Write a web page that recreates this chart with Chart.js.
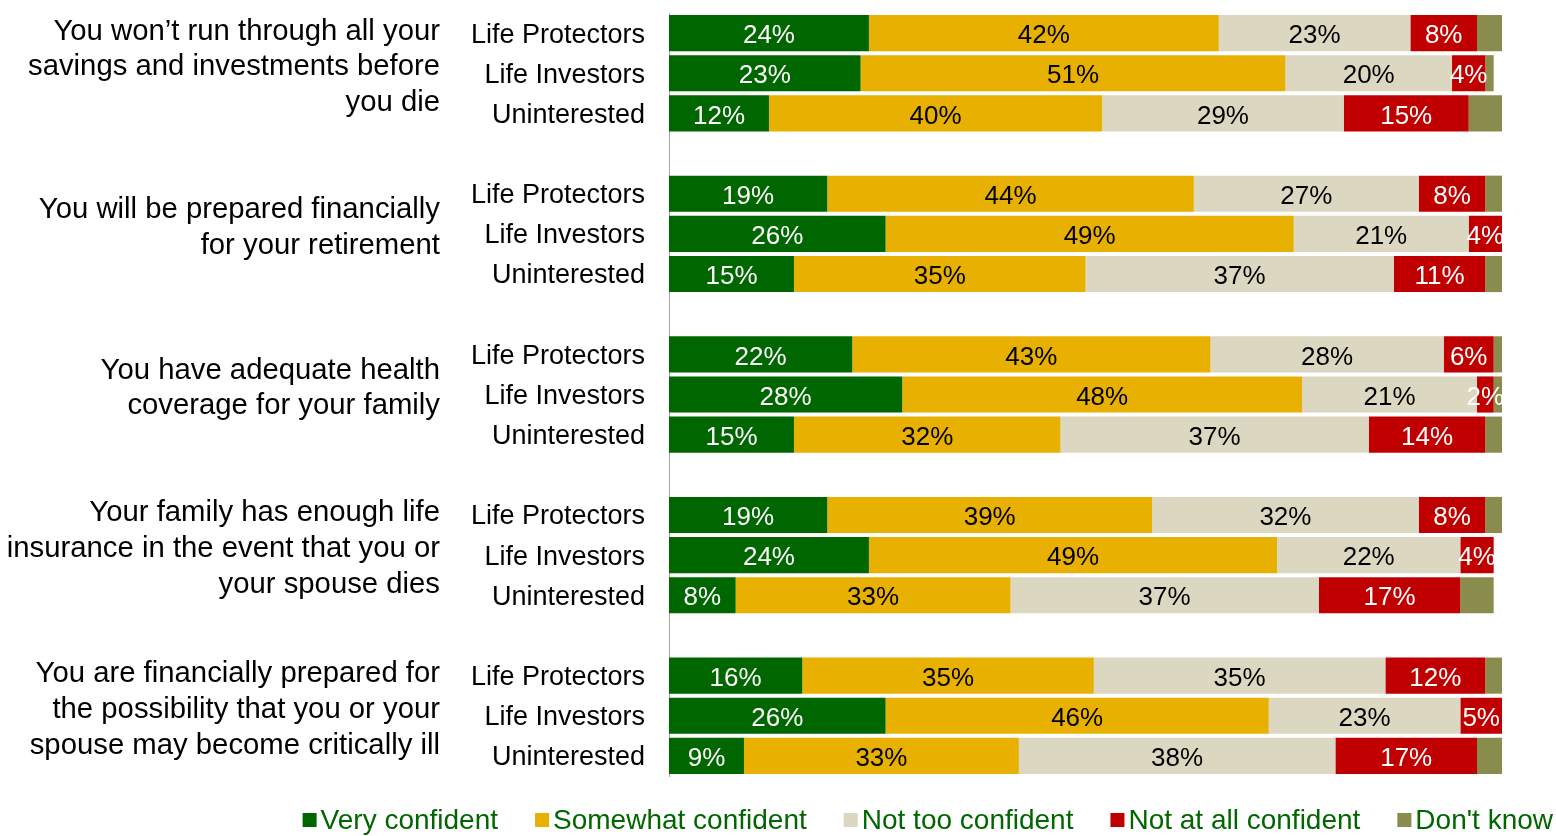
<!DOCTYPE html>
<html>
<head>
<meta charset="utf-8">
<script src="https://cdn.jsdelivr.net/npm/chart.js@4/dist/chart.umd.min.js"></script>
<style>
  html, body { margin: 0; padding: 0; background: #fff; }
  #wrap { width: 1556px; height: 836px; position: relative; }
</style>
</head>
<body>
<div id="wrap"><canvas id="chart"></canvas></div>
<script>
/* questions (one per group of 3 bars) */
const questions = [
    ['You won\u2019t run through all your', 'savings and investments before', 'you die'],
    ['You will be prepared financially', 'for your retirement'],
    ['You have adequate health', 'coverage for your family'],
    ['Your family has enough life', 'insurance in the event that you or', 'your spouse dies'],
    ['You are financially prepared for', 'the possibility that you or your', 'spouse may become critically ill']
];
const segments = ['Life Protectors', 'Life Investors', 'Uninterested'];

/* values in %, 3 segments per question, in question order */
const veryConfident     = [24, 23, 12,  19, 26, 15,  22, 28, 15,  19, 24,  8,  16, 26,  9];
const somewhatConfident = [42, 51, 40,  44, 49, 35,  43, 48, 32,  39, 49, 33,  35, 46, 33];
const notTooConfident   = [23, 20, 29,  27, 21, 37,  28, 21, 37,  32, 22, 37,  35, 23, 38];
const notAtAllConfident = [ 8,  4, 15,   8,  4, 11,   6,  2, 14,   8,  4, 17,  12,  5, 17];
const dontKnow          = [ 3,  1,  4,   2,  0,  2,   1,  1,  2,   2,  0,  4,   2,  0,  3];

const seriesNames = ['Very confident', 'Somewhat confident', 'Not too confident', 'Not at all confident', 'Don\'t know'];
const seriesColors = ['#006600', '#E8B000', '#DBD7C1', '#C00000', '#8A8C4E'];
const labelColors = ['#ffffff', '#000000', '#000000', '#ffffff', null];

/* build slots: 3 bars per question with an empty slot between groups */
var segLabels = [];
var questionLabels = [];
var slotIndex = [];
questions.forEach(function (q, qi) {
    segments.forEach(function (s, si) {
        segLabels.push(s);
        questionLabels.push(si === 1 ? q : '');
        slotIndex.push(qi * 3 + si);
    });
    if (qi < questions.length - 1) {
        segLabels.push('');
        questionLabels.push('');
        slotIndex.push(null);
    }
});

function toSlots(values) {
    return slotIndex.map(i => i === null ? null : values[i]);
}

var allSeries = [veryConfident, somewhatConfident, notTooConfident, notAtAllConfident, dontKnow];
var datasets = allSeries.map(function (values, k) {
    return {
        label: seriesNames[k],
        data: toSlots(values),
        backgroundColor: seriesColors[k],
        borderWidth: 0,
        barPercentage: 0.9,
        categoryPercentage: 1.0
    };
});

/* value text inside the bars */
const barLabels = {
    id: 'barLabels',
    afterDatasetsDraw(chart) {
        var ctx = chart.ctx;
        ctx.save();
        ctx.font = '26px "Liberation Sans", Arial, sans-serif';
        ctx.textAlign = 'center';
        ctx.textBaseline = 'middle';
        chart.data.datasets.forEach(function (ds, k) {
            if (!labelColors[k]) return;
            var meta = chart.getDatasetMeta(k);
            meta.data.forEach(function (bar, i) {
                var v = ds.data[i];
                if (v === null || v === 0) return;
                ctx.fillStyle = labelColors[k];
                ctx.fillText(v + '%', (bar.x + bar.base) / 2, bar.y + 3);
            });
        });
        ctx.restore();
    }
};

/* legend at the bottom, text in dark green */
const bottomLegend = {
    id: 'bottomLegend',
    afterDraw(chart) {
        var ctx = chart.ctx;
        var box = 14, gap = 4, spacing = 37;
        ctx.save();
        ctx.font = '28px "Liberation Sans", Arial, sans-serif';
        ctx.textBaseline = 'middle';
        var widths = seriesNames.map(n => ctx.measureText(n).width);
        var total = widths.reduce((a, b) => a + b, 0) + seriesNames.length * (box + gap) + (seriesNames.length - 1) * spacing;
        var x = chart.width - 3 - total;
        var y = 820;
        seriesNames.forEach(function (n, k) {
            ctx.fillStyle = seriesColors[k];
            ctx.fillRect(x, y - box / 2, box, box);
            x += box + gap;
            ctx.fillStyle = '#006600';
            ctx.fillText(n, x, y + 1);
            x += widths[k] + spacing;
        });
        ctx.restore();
    }
};

function fixAxis(width) {
    return function (scale) {
        scale.width = width;
        scale.paddingTop = 0;
        scale.paddingBottom = 0;
    };
}

var chart = new Chart(document.getElementById('chart'), {
    type: 'bar',
    data: {
        labels: segLabels,
        datasets: datasets
    },
    options: {
        indexAxis: 'y',
        responsive: true,
        maintainAspectRatio: false,
        animation: false,
        layout: { padding: { top: 13, bottom: 60, right: 54, left: 0 } },
        plugins: {
            legend: { display: false },
            tooltip: { enabled: false }
        },
        scales: {
            x: {
                stacked: true,
                min: 0,
                max: 100,
                display: false
            },
            y: {
                stacked: true,
                weight: 0,
                grid: { display: false, drawTicks: false },
                border: { display: true, color: '#A3A89E', width: 1 },
                ticks: {
                    autoSkip: false,
                    padding: 24,
                    labelOffset: 2,
                    color: '#000000',
                    font: { family: '"Liberation Sans", Arial, sans-serif', size: 27 }
                },
                afterFit: fixAxis(229)
            },
            y2: {
                type: 'category',
                position: 'left',
                weight: 1,
                labels: questionLabels,
                grid: { display: false, drawTicks: false },
                border: { display: false },
                ticks: {
                    autoSkip: false,
                    padding: 0,
                    labelOffset: -6,
                    color: '#000000',
                    font: { family: '"Liberation Sans", Arial, sans-serif', size: 29.3, lineHeight: 1.22 }
                },
                afterFit: fixAxis(440)
            }
        }
    },
    plugins: [barLabels, bottomLegend]
});
</script>
</body>
</html>
